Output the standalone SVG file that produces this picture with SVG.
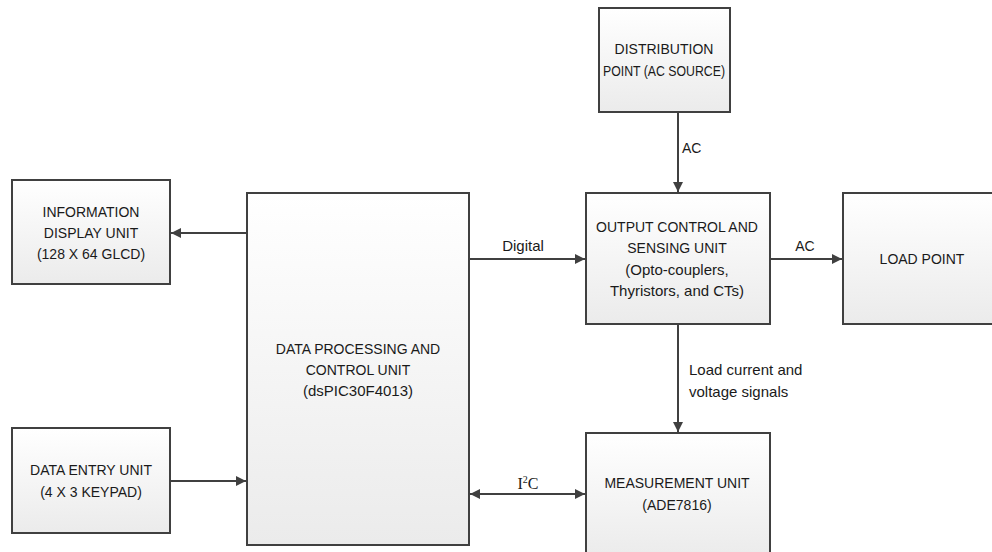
<svg xmlns="http://www.w3.org/2000/svg" width="992" height="552" viewBox="0 0 992 552">
  <defs>
    <linearGradient id="boxFill" x1="0" y1="0" x2="0" y2="1">
      <stop offset="0" stop-color="#ffffff"/>
      <stop offset="1" stop-color="#ebebeb"/>
    </linearGradient>
    <marker id="arrow" viewBox="0 0 10 10" refX="10" refY="5" markerWidth="10" markerHeight="10" markerUnits="userSpaceOnUse" orient="auto-start-reverse">
      <path d="M0,0 L10,5 L0,10 z" fill="#404040"/>
    </marker>
    <style>
      .box { fill: url(#boxFill); stroke: #404040; stroke-width: 2; }
      .lbl { font-family: "Liberation Sans", Arial, sans-serif; font-size: 14px; fill: #1a1a1a; text-anchor: middle; }
      .tag { font-family: "Liberation Sans", Arial, sans-serif; font-size: 14px; fill: #1a1a1a; }
      .lc { font-size: 15px; }
      .wire { fill: none; stroke: #404040; stroke-width: 2; }
    </style>
  </defs>

  <rect width="992" height="552" fill="#ffffff"/>

  <g id="distribution-point">
    <rect class="box" x="599" y="8" width="131" height="104"/>
    <text class="lbl" x="664" y="54">DISTRIBUTION</text>
    <text class="lbl" x="664" y="76" textLength="122" lengthAdjust="spacingAndGlyphs">POINT (AC SOURCE)</text>
  </g>

  <g id="information-display">
    <rect class="box" x="12" y="180" width="158" height="104"/>
    <text class="lbl" x="91" y="217">INFORMATION</text>
    <text class="lbl" x="91" y="238">DISPLAY UNIT</text>
    <text class="lbl" x="91" y="259">(128 X 64 GLCD)</text>
  </g>

  <g id="data-processing">
    <rect class="box" x="247" y="193" width="222" height="352"/>
    <text class="lbl" x="358" y="354">DATA PROCESSING AND</text>
    <text class="lbl" x="358" y="375">CONTROL UNIT</text>
    <text class="lbl lc" x="358" y="396">(dsPIC30F4013)</text>
  </g>

  <g id="output-control">
    <rect class="box" x="586" y="193" width="184" height="131"/>
    <text class="lbl" x="677" y="232">OUTPUT CONTROL AND</text>
    <text class="lbl" x="677" y="253">SENSING UNIT</text>
    <text class="lbl lc" x="677" y="275">(Opto-couplers,</text>
    <text class="lbl lc" x="677" y="296">Thyristors, and CTs)</text>
  </g>

  <g id="load-point">
    <rect class="box" x="843" y="193" width="160" height="131"/>
    <text class="lbl" x="922" y="264">LOAD POINT</text>
  </g>

  <g id="data-entry">
    <rect class="box" x="12" y="428" width="158" height="105"/>
    <text class="lbl" x="91" y="475">DATA ENTRY UNIT</text>
    <text class="lbl" x="91" y="497">(4 X 3 KEYPAD)</text>
  </g>

  <g id="measurement">
    <rect class="box" x="586" y="433" width="184" height="125"/>
    <text class="lbl" x="677" y="488">MEASUREMENT UNIT</text>
    <text class="lbl" x="677" y="510">(ADE7816)</text>
  </g>

  <g id="connectors">
    <line class="wire" x1="247" y1="233" x2="171" y2="233" marker-end="url(#arrow)"/>
    <line class="wire" x1="170" y1="481" x2="246" y2="481" marker-end="url(#arrow)"/>
    <line class="wire" x1="469" y1="259" x2="585" y2="259" marker-end="url(#arrow)"/>
    <line class="wire" x1="678" y1="112" x2="678" y2="192" marker-end="url(#arrow)"/>
    <line class="wire" x1="770" y1="259" x2="842" y2="259" marker-end="url(#arrow)"/>
    <line class="wire" x1="678" y1="324" x2="678" y2="432" marker-end="url(#arrow)"/>
    <line class="wire" x1="470" y1="494" x2="585" y2="494" marker-start="url(#arrow)" marker-end="url(#arrow)"/>

    <text class="lbl lc" x="523" y="251">Digital</text>
    <text class="tag" x="682" y="153">AC</text>
    <text class="lbl" x="805" y="251">AC</text>
    <text class="tag lc" x="689" y="375">Load current and</text>
    <text class="tag lc" x="689" y="397">voltage signals</text>
    <text x="528" y="489" text-anchor="middle" font-family="'Liberation Serif', 'Times New Roman', serif" font-size="16" fill="#1a1a1a">I<tspan font-size="10" dy="-6">2</tspan><tspan dy="6">C</tspan></text>
  </g>
</svg>
